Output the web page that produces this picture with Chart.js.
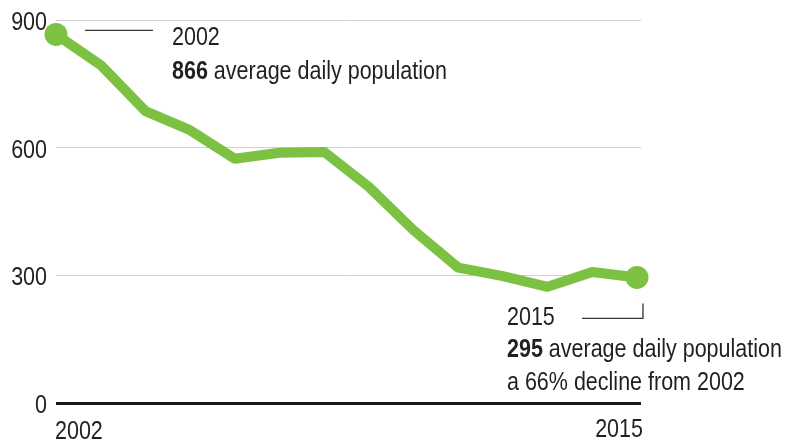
<!DOCTYPE html>
<html>
<head>
<meta charset="utf-8">
<script src="https://cdn.jsdelivr.net/npm/chart.js@4.4.1/dist/chart.umd.min.js"></script>
<style>
  html, body { margin: 0; padding: 0; background: #fff; }
  #wrap { width: 790px; height: 441px; position: relative; }
</style>
</head>
<body>
<div id="wrap"><canvas id="c" width="790" height="441"></canvas></div>
<script>
const years = [2002, 2003, 2004, 2005, 2006, 2007, 2008, 2009, 2010, 2011, 2012, 2013, 2014, 2015];
const population = [866, 794, 686, 641, 574, 588, 590, 508, 406, 318, 298, 273, 308, 295];
const yTicks = [0, 300, 600, 900];
const xTicks = [2002, 2015];
const startNote = ["2002", "866", " average daily population"];
const endNote = ["2015", "295", " average daily population", "a 66% decline from 2002"];

const FONT = '"Liberation Sans", Arial, Helvetica, sans-serif';
const FS = 25;
const SX = 0.86; // condensed look
const TEXT = '#231f20';
const GREEN = 'rgb(124,193,66)';

// draws condensed text, returns its width
function txt(c, s, x, y, bold, align) {
  c.save();
  c.font = (bold ? 'bold ' : '') + FS + 'px ' + FONT;
  c.textAlign = align || 'left';
  c.textBaseline = 'alphabetic';
  c.fillStyle = TEXT;
  c.translate(x, y);
  c.scale(SX, 1);
  c.fillText(s, 0, 0);
  const w = c.measureText(s).width * SX;
  c.restore();
  return w;
}

const notes = {
  id: 'notes',
  afterDraw(chart) {
    const c = chart.ctx;
    const xs = chart.scales.x, ys = chart.scales.y;
    // axis tick labels positioned by the scales
    yTicks.forEach(v => txt(c, String(v), xs.left - 9, ys.getPixelForValue(v) + 10, false, 'right'));
    txt(c, String(xTicks[0]), xs.getPixelForValue(xTicks[0]) - 1, ys.bottom + 36, false, 'left');
    txt(c, String(xTicks[1]), xs.getPixelForValue(xTicks[1]) + 6, ys.bottom + 34, false, 'right');

    const n = years.length - 1;
    const x0 = xs.getPixelForValue(years[0]), y0 = ys.getPixelForValue(population[0]);
    const x1 = xs.getPixelForValue(years[n]), y1 = ys.getPixelForValue(population[n]);
    c.save();
    c.strokeStyle = '#333';
    c.lineWidth = 1.3;
    c.beginPath();
    c.moveTo(x0 + 29, y0 - 4);
    c.lineTo(x0 + 97, y0 - 4);
    c.stroke();
    c.beginPath();
    c.moveTo(x1 - 55, y1 + 41);
    c.lineTo(x1 + 6, y1 + 41);
    c.lineTo(x1 + 6, y1 + 26);
    c.stroke();
    c.restore();

    txt(c, startNote[0], x0 + 116, y0 + 11);
    let w = txt(c, startNote[1], x0 + 116, y0 + 45, true);
    txt(c, startNote[2], x0 + 116 + w, y0 + 45);

    const tx = x1 - 130;
    txt(c, endNote[0], tx, y1 + 48);
    w = txt(c, endNote[1], tx, y1 + 80, true);
    txt(c, endNote[2], tx + w, y1 + 80);
    txt(c, endNote[3], tx, y1 + 113);
  }
};

new Chart(document.getElementById('c'), {
  type: 'line',
  data: {
    labels: years,
    datasets: [{
      data: years.map((y, i) => ({ x: y, y: population[i] })),
      borderColor: GREEN,
      backgroundColor: GREEN,
      borderWidth: 10,
      borderJoinStyle: 'round',
      borderCapStyle: 'round',
      tension: 0,
      clip: false,
      pointRadius: ctx => (ctx.dataIndex === 0 || ctx.dataIndex === years.length - 1) ? 11.5 : 0,
      pointBorderWidth: 0,
      pointHoverRadius: 0
    }]
  },
  options: {
    responsive: false,
    animation: false,
    events: [],
    layout: { padding: { top: 20, right: 149, left: 0, bottom: 0 } },
    plugins: { legend: { display: false }, tooltip: { enabled: false } },
    scales: {
      x: {
        type: 'linear',
        min: 2002,
        max: 2015.09,
        afterBuildTicks: s => { s.ticks = xTicks.map(v => ({ value: v })); },
        afterFit: s => { s.height = 38; },
        grid: { display: false, drawTicks: false },
        border: { display: false },
        ticks: { display: false }
      },
      y: {
        min: 0,
        max: 900,
        afterBuildTicks: s => { s.ticks = yTicks.map(v => ({ value: v })); },
        afterFit: s => { s.width = 56; },
        grid: {
          drawTicks: false,
          color: c => c.tick && c.tick.value === 0 ? '#1a1a1a' : '#d0d0d0',
          lineWidth: c => c.tick && c.tick.value === 0 ? 3 : 1
        },
        border: { display: false },
        ticks: { display: false }
      }
    }
  },
  plugins: [notes]
});
</script>
</body>
</html>
